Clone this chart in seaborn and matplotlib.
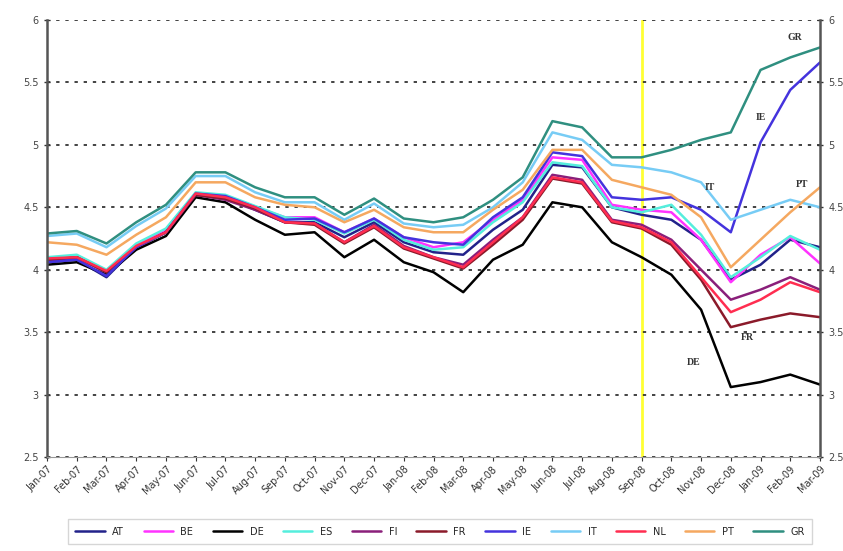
import matplotlib
matplotlib.use("Agg")
import matplotlib.pyplot as plt
import seaborn as sns
import pandas as pd

months = ["Jan-07", "Feb-07", "Mar-07", "Apr-07", "May-07", "Jun-07", "Jul-07",
          "Aug-07", "Sep-07", "Oct-07", "Nov-07", "Dec-07", "Jan-08", "Feb-08",
          "Mar-08", "Apr-08", "May-08", "Jun-08", "Jul-08", "Aug-08", "Sep-08",
          "Oct-08", "Nov-08", "Dec-08", "Jan-09", "Feb-09", "Mar-09"]

AT = [4.06, 4.08, 3.94, 4.18, 4.30, 4.60, 4.58, 4.48, 4.38, 4.38, 4.26, 4.38, 4.22, 4.14,
      4.12, 4.32, 4.48, 4.84, 4.82, 4.50, 4.44, 4.40, 4.24, 3.92, 4.04, 4.24, 4.18]
BE = [4.08, 4.10, 3.98, 4.20, 4.32, 4.61, 4.59, 4.50, 4.42, 4.42, 4.30, 4.41, 4.26, 4.18,
      4.22, 4.40, 4.56, 4.90, 4.88, 4.52, 4.48, 4.46, 4.24, 3.90, 4.12, 4.26, 4.05]
DE = [4.04, 4.06, 3.96, 4.16, 4.27, 4.58, 4.54, 4.40, 4.28, 4.30, 4.10, 4.24, 4.06, 3.98,
      3.82, 4.08, 4.20, 4.54, 4.50, 4.22, 4.10, 3.96, 3.68, 3.06, 3.10, 3.16, 3.08]
ES = [4.10, 4.12, 4.00, 4.21, 4.33, 4.62, 4.60, 4.51, 4.42, 4.40, 4.29, 4.40, 4.24, 4.16,
      4.18, 4.38, 4.54, 4.86, 4.83, 4.50, 4.46, 4.52, 4.28, 3.94, 4.10, 4.27, 4.16]
FI = [4.07, 4.10, 3.98, 4.18, 4.30, 4.60, 4.56, 4.48, 4.38, 4.37, 4.22, 4.36, 4.19, 4.10,
      4.04, 4.24, 4.42, 4.76, 4.72, 4.40, 4.36, 4.24, 4.00, 3.76, 3.84, 3.94, 3.84]
FR = [4.08, 4.10, 3.98, 4.18, 4.30, 4.60, 4.57, 4.49, 4.38, 4.36, 4.21, 4.34, 4.17, 4.09,
      4.01, 4.20, 4.40, 4.73, 4.69, 4.38, 4.33, 4.20, 3.92, 3.54, 3.60, 3.65, 3.62]
IE = [4.06, 4.08, 3.95, 4.18, 4.30, 4.61, 4.59, 4.50, 4.40, 4.41, 4.30, 4.41, 4.26, 4.22,
      4.20, 4.42, 4.58, 4.94, 4.91, 4.58, 4.56, 4.58, 4.48, 4.30, 5.02, 5.44, 5.66]
IT = [4.27, 4.29, 4.18, 4.35, 4.49, 4.75, 4.75, 4.62, 4.54, 4.54, 4.40, 4.53, 4.37, 4.34,
      4.36, 4.50, 4.70, 5.10, 5.04, 4.84, 4.82, 4.78, 4.70, 4.40, 4.48, 4.56, 4.50]
NL = [4.09, 4.10, 3.99, 4.19, 4.30, 4.61, 4.58, 4.50, 4.38, 4.37, 4.22, 4.35, 4.18, 4.10,
      4.02, 4.22, 4.42, 4.74, 4.70, 4.39, 4.34, 4.22, 3.94, 3.66, 3.76, 3.90, 3.82]
PT = [4.22, 4.20, 4.12, 4.28, 4.42, 4.70, 4.70, 4.58, 4.52, 4.50, 4.38, 4.48, 4.34, 4.30,
      4.30, 4.48, 4.64, 4.96, 4.96, 4.72, 4.66, 4.60, 4.42, 4.02, 4.24, 4.46, 4.66]
GR = [4.29, 4.31, 4.21, 4.38, 4.52, 4.78, 4.78, 4.66, 4.58, 4.58, 4.44, 4.57, 4.41, 4.38,
      4.42, 4.56, 4.74, 5.19, 5.14, 4.90, 4.90, 4.96, 5.04, 5.10, 5.60, 5.70, 5.78]

countries = ["AT", "BE", "DE", "ES", "FI", "FR", "IE", "IT", "NL", "PT", "GR"]
series = [AT, BE, DE, ES, FI, FR, IE, IT, NL, PT, GR]
colors = ["#22228a", "#ff33ff", "#000000", "#55eedd", "#8a1f7a", "#8b1a2a",
          "#4433dd", "#77ccf5", "#ff2d50", "#f5a860", "#2f8f80"]

rows = []
for c, vals in zip(countries, series):
    for i, v in enumerate(vals):
        rows.append({"country": c, "i": i, "yield": v})
df = pd.DataFrame(rows)

sns.set_style("white")
fig = plt.figure(figsize=(8.43, 5.51), dpi=100)
ax = fig.add_axes([0.0558, 0.1706, 0.9169, 0.7931])

sns.lineplot(data=df, x="i", y="yield", hue="country", hue_order=countries,
             palette=dict(zip(countries, colors)), linewidth=1.8, ax=ax, legend=False)

# september 2008 marker
ax.axvline(20, color="#ffff33", linewidth=2, zorder=0)

ax.set_xlim(0, 26)
ax.set_ylim(2.5, 6)
ax.set_yticks([2.5, 3, 3.5, 4, 4.5, 5, 5.5, 6])
ax.set_yticklabels(["2.5", "3", "3.5", "4", "4.5", "5", "5.5", "6"])
ax.set_xticks(range(len(months)))
ax.set_xticklabels(months, rotation=45, ha="right", rotation_mode="anchor")
ax.set_xlabel("")
ax.set_ylabel("")
ax.grid(axis="y", linestyle=(0, (2, 3.5)), color="#222222", linewidth=1.2)
ax.tick_params(axis="y", which="both", left=True, right=True, labelright=True,
               direction="inout", length=5, width=1, color="#333333",
               labelsize=7, labelcolor="#444444")
ax.tick_params(axis="x", bottom=True, direction="out", length=3, color="#333333",
               labelsize=7, labelcolor="#333333", pad=2)
for s in ["left", "right"]:
    ax.spines[s].set_color("#555555")
    ax.spines[s].set_linewidth(1.8)
ax.spines["bottom"].set_color("#999999")
ax.spines["top"].set_visible(False)

notes = [("GR", 25.15, 5.86), ("IE", 24.0, 5.22), ("IT", 22.3, 4.66),
         ("PT", 25.4, 4.68), ("FR", 23.55, 3.46), ("DE", 21.75, 3.26)]
for txt, xx, yy in notes:
    ax.text(xx, yy, txt, fontsize=7, fontweight="bold", color="#333333",
            ha="center", va="center", family="Liberation Serif")

handles = [plt.Line2D([], [], color=c, linewidth=1.8) for c in colors]
leg = fig.legend(handles, countries, loc="lower center", ncol=11,
                 bbox_to_anchor=(0.522, 0.003), fontsize=7, frameon=True,
                 fancybox=False, handlelength=3, columnspacing=2.0,
                 borderpad=0.8)
leg.get_frame().set_edgecolor("#cccccc")

fig.savefig("out.png", dpi=100)
